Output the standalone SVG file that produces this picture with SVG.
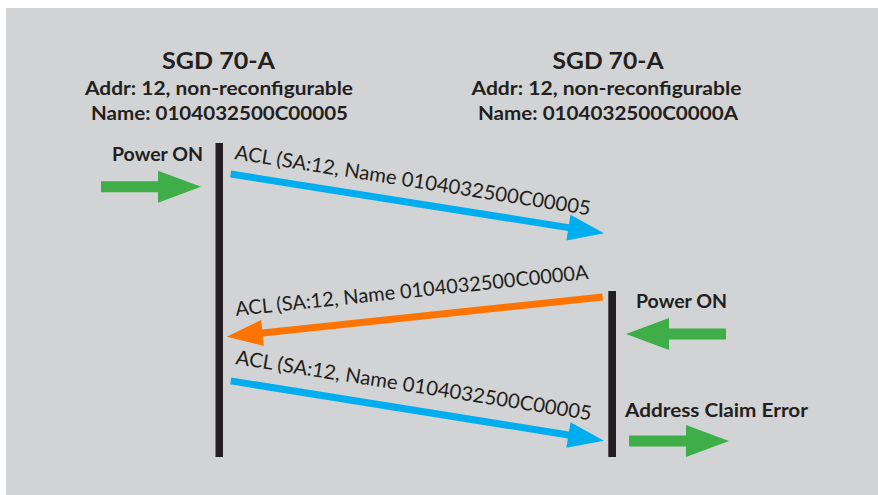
<svg xmlns="http://www.w3.org/2000/svg" width="878" height="495" viewBox="0 0 878 495">
<style>
.t{font-family:Lato,"Noto Sans",sans-serif;fill:#231f20}
.b{font-weight:bold}
.h{font-size:22px}
.s{font-size:19px}
.lbl{font-family:Lato,"Noto Sans",sans-serif;fill:#231f20;font-size:20px}
.life{fill:#231f20}
.blue{fill:#00aeef}
.orange{fill:#ff7300}
.green{fill:#3fae49}
</style>
<defs>
<path id="msg" d="M-378,-3.5 H-36 V-13 L0,0 L-36,13 V3.5 H-378 Z"/>
<path id="garrow" d="M-100,-5.5 H-43 V-16 L0,0 L-43,16 V5.5 H-100 Z"/>
</defs>
<rect x="6" y="8" width="872" height="487" fill="#d1d3d4"/>
<g id="device-left">
<text class="t b h" x="218.5" y="69" text-anchor="middle" textLength="113" lengthAdjust="spacingAndGlyphs">SGD 70-A</text>
<text class="t b s" x="219" y="95" text-anchor="middle" textLength="268" lengthAdjust="spacingAndGlyphs">Addr: 12, non-reconfigurable</text>
<text class="t b s" x="219.5" y="120" text-anchor="middle" textLength="257" lengthAdjust="spacingAndGlyphs">Name: 0104032500C00005</text>
<rect class="life" x="215.5" y="143" width="7.5" height="314"/>
</g>
<g id="device-right">
<text class="t b h" x="608" y="69" text-anchor="middle" textLength="111" lengthAdjust="spacingAndGlyphs">SGD 70-A</text>
<text class="t b s" x="606.5" y="95" text-anchor="middle" textLength="270" lengthAdjust="spacingAndGlyphs">Addr: 12, non-reconfigurable</text>
<text class="t b s" x="608" y="120" text-anchor="middle" textLength="260" lengthAdjust="spacingAndGlyphs">Name: 0104032500C0000A</text>
<rect class="life" x="608.3" y="291" width="7.7" height="166"/>
</g>
<g id="event-power-left">
<text class="t b s" x="112" y="161" textLength="91" lengthAdjust="spacingAndGlyphs">Power ON</text>
<use href="#garrow" class="green" transform="translate(201,186.7)"/>
</g>
<g id="event-power-right">
<text class="t b s" x="636" y="308" textLength="91" lengthAdjust="spacingAndGlyphs">Power ON</text>
<use href="#garrow" class="green" transform="translate(626,334) rotate(180)"/>
</g>
<g id="event-error">
<text class="t b s" x="625" y="417" textLength="183" lengthAdjust="spacingAndGlyphs">Address Claim Error</text>
<use href="#garrow" class="green" transform="translate(729,441)"/>
</g>
<g id="connectors">
<use href="#msg" class="blue" transform="translate(604,233.3) rotate(9.03)"/>
<text class="lbl" transform="translate(234,159) rotate(9)" textLength="360" lengthAdjust="spacingAndGlyphs">ACL (SA:12, Name 0104032500C00005</text>
<use href="#msg" class="orange" transform="translate(226.7,336.7) rotate(173.97)"/>
<text class="lbl" transform="translate(236,316) rotate(-6)" textLength="355" lengthAdjust="spacingAndGlyphs">ACL (SA:12, Name 0104032500C0000A</text>
<use href="#msg" class="blue" transform="translate(604,440.7) rotate(9.1)"/>
<text class="lbl" transform="translate(235,364) rotate(9)" textLength="360" lengthAdjust="spacingAndGlyphs">ACL (SA:12, Name 0104032500C00005</text>
</g>
</svg>
